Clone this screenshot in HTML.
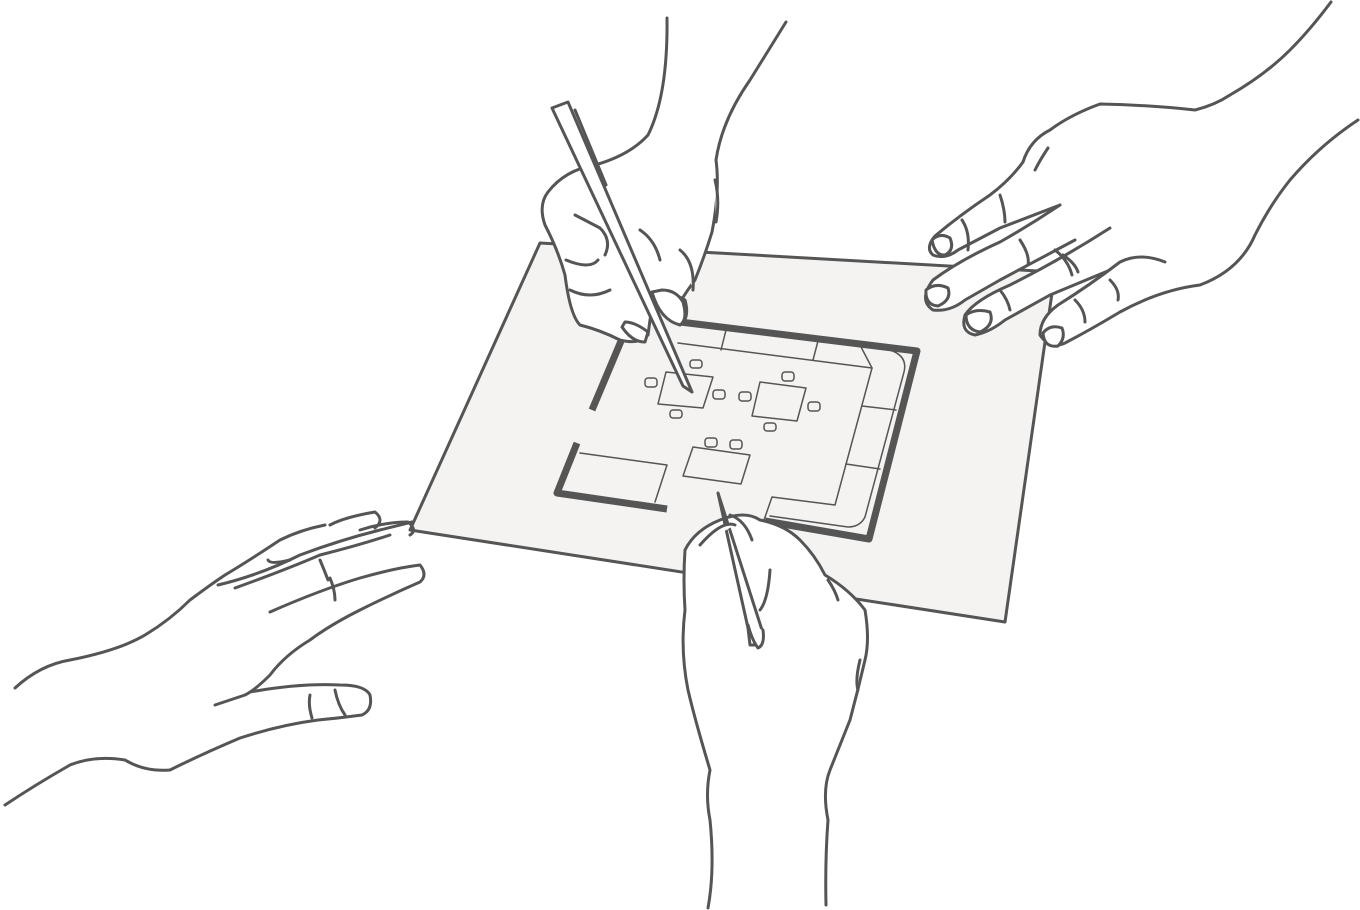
<!DOCTYPE html>
<html><head><meta charset="utf-8"><style>html,body{margin:0;padding:0;background:#fff}svg{display:block}</style></head>
<body>
<svg width="1360" height="910" viewBox="0 0 1360 910" xmlns="http://www.w3.org/2000/svg" fill="none" stroke="#555" stroke-width="3" stroke-linecap="round" stroke-linejoin="round">
<polygon points="540,243 1055,272 1005,622 410,530" fill="#f4f3f2"/>
<g stroke-width="7" stroke-linecap="butt" stroke="#555">
<polyline points="624,334 592,410"/>
<polyline points="577,443 557,493 667,509"/>
<polyline points="680,322 917,351 869,539 765,521"/>
</g>
<g stroke-width="1.5" fill="none">
<polyline points="678,343 872,368 835,505 772,497 764,520"/>
<line x1="726" y1="330" x2="721" y2="350"/>
<line x1="818" y1="341" x2="813" y2="360"/>
<path d="M872,368 L860,345 L890,350 Q908,356 904,372 L865,517 Q860,527 848,527 L770,516"/>
<line x1="862" y1="406" x2="896" y2="410"/>
<line x1="846" y1="464" x2="880" y2="469"/>
<polyline points="580,453 667,465 655,502"/>
<polygon points="666,372 713,377 703,408 658,404"/>
<polygon points="760,382 806,388 797,421 752,416"/>
<polygon points="693,447 750,455 741,484 683,476"/>
<rect x="645" y="378" width="12" height="9" rx="3"/>
<rect x="690" y="360" width="12" height="8" rx="3"/>
<rect x="670" y="410" width="12" height="8" rx="3"/>
<rect x="713" y="390" width="12" height="9" rx="3"/>
<rect x="739" y="392" width="12" height="9" rx="3"/>
<rect x="782" y="372" width="12" height="9" rx="3"/>
<rect x="808" y="402" width="12" height="9" rx="3"/>
<rect x="764" y="423" width="12" height="8" rx="3"/>
<rect x="705" y="438" width="12" height="9" rx="3"/>
<rect x="730" y="440" width="12" height="9" rx="3"/>
</g>
<g fill="#fff">
<path d="M667,18 Q668,95 648,135 Q630,155 595,165 Q565,170 548,192 Q538,205 545,225 Q558,250 565,275 Q570,315 580,325 Q600,330 620,340 Q640,345 648,335 L650,320 Q652,305 660,300 Q670,290 685,300 Q690,318 680,325 L670,320 Q680,300 695,280 Q705,255 712,232 Q720,190 716,160 Q722,120 750,80 L786,22"/>
<path d="M575,215 L600,228 Q612,240 605,255 M566,260 Q590,270 598,260 M570,290 Q590,300 610,290 M640,230 Q655,240 660,260 M680,250 Q695,262 693,290 M715,180 Q720,200 716,222"/>
<polygon points="552,108 568,102 692,392 683,386" fill="#fff"/>
<line x1="575" y1="110" x2="606" y2="185"/>
<path d="M652,292 Q660,320 680,325 Q688,320 683,302 Q676,290 662,290 Z"/>
<path d="M622,327 Q632,342 645,342 L648,332 Q635,322 625,322 Z"/>
</g>
<g fill="#fff">
<path d="M1331,2 Q1310,30 1290,50 Q1265,75 1230,95 Q1215,105 1195,110 Q1150,105 1100,104 Q1070,115 1050,130 Q1030,140 1023,162 Q1010,180 990,195 Q960,215 935,236 Q925,248 933,255 Q945,260 958,250 L1000,228 L1060,205 L1100,260 L1200,285 Q1240,270 1255,235 Q1270,205 1290,180 Q1320,145 1358,120" stroke="none"/>
<path d="M1331,2 Q1310,30 1290,50 Q1265,75 1230,95 Q1215,105 1195,110 Q1150,105 1100,104 Q1070,115 1050,130 Q1030,140 1023,162 Q1010,180 990,195 Q960,215 935,236 Q925,248 933,255 Q945,260 958,250 L1000,228 L1060,205" fill="none"/>
<path d="M1060,205 Q1030,225 1000,242 Q960,260 933,280 Q918,300 933,310 Q950,312 965,300 L1000,280 L1075,240"/>
<path d="M1110,228 Q1060,260 1010,285 Q975,300 965,315 Q960,332 975,335 Q990,332 1005,320 L1050,295 L1115,268"/>
<path d="M1165,262 Q1140,252 1120,262 Q1090,285 1058,305 Q1040,318 1040,335 Q1050,350 1065,343 Q1090,330 1120,312 Q1160,290 1200,285 Q1240,270 1255,235 Q1270,205 1290,180 Q1320,145 1358,120"/>
<path fill="none" d="M1048,148 Q1040,160 1035,170 M1000,195 Q1005,210 1005,222 M962,220 Q970,232 968,250 M1020,240 Q1030,255 1028,265 M1055,250 Q1068,260 1072,275 M1063,255 Q1075,263 1078,272 M1000,290 Q1008,300 1010,310 M1110,280 Q1120,290 1118,300 M1075,300 Q1085,310 1085,322"/>
<path d="M932,240 Q935,256 945,255 Q955,250 950,238 Q940,232 932,240 Z M926,290 Q925,305 938,306 Q952,300 948,288 Q936,282 926,290 Z M966,315 Q966,330 980,332 Q995,325 990,312 Q976,308 966,315 Z M1043,333 Q1044,348 1058,346 Q1066,338 1062,328 Q1050,324 1043,333 Z"/>
</g>
<g fill="none">
<path d="M15,688 Q40,665 70,660 Q120,650 145,635 Q170,620 190,600 Q210,585 225,575 Q250,560 280,540 Q300,530 325,525"/>
<path d="M218,585 Q260,575 300,555 Q340,540 380,530 Q400,525 412,522"/>
<path d="M235,588 Q285,570 320,555 Q360,545 390,535"/>
<path d="M270,612 Q320,590 360,578 Q395,568 420,565 Q428,575 420,582 Q390,595 360,610 Q330,625 310,640 Q285,655 270,675 Q255,690 245,695 L215,705"/>
<path d="M330,525 Q345,517 375,512 Q385,520 375,528 M360,530 Q385,522 408,522 Q418,530 410,535"/>
<path d="M250,692 Q300,683 340,685 Q365,685 370,695 Q373,710 362,715 Q340,718 318,720 Q280,725 240,738 Q200,755 170,770 Q145,772 125,760 Q95,755 70,765 Q35,785 5,805"/>
<path d="M335,690 Q338,705 345,715 M310,695 Q308,705 312,718 M330,578 Q335,590 335,600 M320,560 Q325,572 328,580 M268,560 Q270,565 290,560"/>
</g>
<g fill="#fff">
<path d="M708,908 Q715,870 710,820 Q705,795 710,770 Q695,720 688,690 Q680,650 685,610 Q683,580 685,550 Q695,530 720,520 Q745,510 760,520 Q785,525 800,540 Q815,555 825,575 Q850,590 865,610 Q870,640 865,660 Q858,690 850,720 Q840,745 830,770 Q822,790 828,820 Q825,860 826,905"/>
<path d="M718,493 L762,630 L758,645 L750,645 L748,628 Z"/>
<path d="M748,625 Q752,640 758,648 Q765,645 763,630"/>
<path d="M730,515 Q745,520 752,540 M700,545 Q722,520 735,525 M770,570 Q768,600 760,610 M828,580 Q835,590 838,600 M860,660 Q855,680 858,690"/>
</g>
</svg>
</body></html>
